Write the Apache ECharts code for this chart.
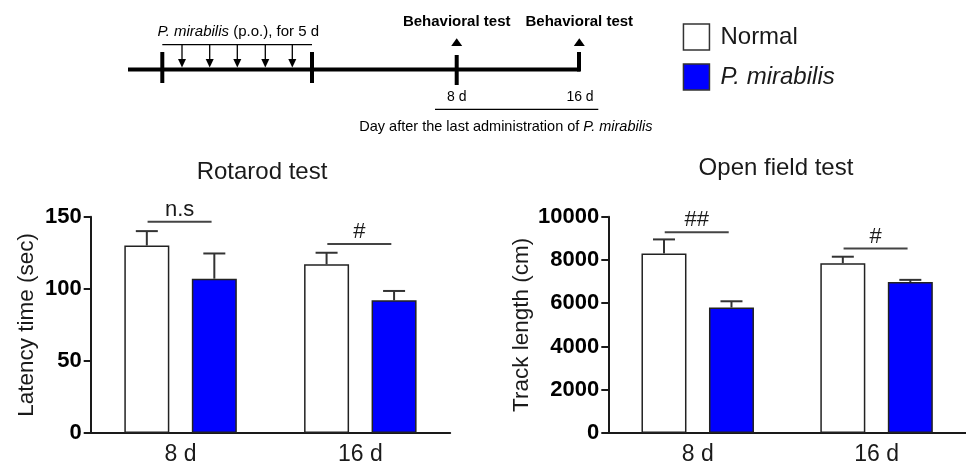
<!DOCTYPE html>
<html>
<head>
<meta charset="utf-8">
<script src="https://cdn.jsdelivr.net/npm/echarts@6/dist/echarts.min.js"></script>
<style>
html,body{margin:0;padding:0;background:#fff;}
#chart{width:966px;height:466px;}
</style>
</head>
<body>
<div id="chart"></div>
<script>
// ---- data ----
const categories = ['8 d', '16 d'];
const seriesNames = ['Normal', 'P. mirabilis'];

const rotarodNormal = [130, 117];
const rotarodNormalErr = [10, 8];
const rotarodPM = [107, 92];
const rotarodPMErr = [17.5, 6.5];
const rotarodSigLabels = ['n.s', '#'];
const rotarodSigLevels = [146.5, 131];
const rotarodTicks = [0, 50, 100, 150];

const openNormal = [8300, 7850];
const openNormalErr = [650, 300];
const openPM = [5800, 6980];
const openPMErr = [290, 100];
const openSigLabels = ['##', '#'];
const openSigLevels = [9280, 8530];
const openTicks = [0, 2000, 4000, 6000, 8000, 10000];

const chartTitles = ['Rotarod test', 'Open field test'];
const yNames = ['Latency time (sec)', 'Track length (cm)'];

const timelineTop = 'P. mirabilis';
const timelineTopRest = ' (p.o.), for 5 d';
const testLabel = 'Behavioral test';
const dayLabels = ['8 d', '16 d'];
const footPre = 'Day after the last administration of ';
const footItalic = 'P. mirabilis';

// ---- styling ----
const FF = 'Liberation Sans, Arial, Helvetica, sans-serif';
const INK = '#1a1a1a';
const BLUE = '#0000ff';
const BAR_W = 45;
const OFF = (BAR_W + BAR_W * 0.5) / 2;

function errRender(off) {
  return function (params, api) {
    const c = api.coord([api.value(0), api.value(1)]);
    const t = api.coord([api.value(0), api.value(1) + api.value(2)]);
    const x = c[0] + off;
    return {
      type: 'group',
      children: [
        {type: 'line', shape: {x1: x, y1: c[1], x2: x, y2: t[1]}, style: {stroke: '#333', lineWidth: 2}},
        {type: 'line', shape: {x1: x - 11, y1: t[1], x2: x + 11, y2: t[1]}, style: {stroke: '#333', lineWidth: 2}}
      ]
    };
  };
}
function sigRender(labels) {
  return function (params, api) {
    const c = api.coord([api.value(0), api.value(1)]);
    return {
      type: 'group',
      children: [
        {type: 'line', shape: {x1: c[0] - 33, y1: c[1], x2: c[0] + 31, y2: c[1]}, style: {stroke: '#444', lineWidth: 2}},
        {type: 'text', style: {text: labels[params.dataIndex], x: c[0] - 1, y: c[1] - 12, align: 'center', verticalAlign: 'middle', fontSize: 22, fontFamily: FF, fill: INK}}
      ]
    };
  };
}
function errData(vals, errs) { return vals.map((v, i) => [i, v, errs[i]]); }
function sigData(levels) { return levels.map((v, i) => [i, v]); }

function xAx(gi) {
  return {
    type: 'category', gridIndex: gi, data: categories,
    axisLine: {lineStyle: {color: INK, width: 2}},
    axisTick: {show: false},
    axisLabel: {fontSize: 23, fontFamily: FF, color: INK, margin: 10}
  };
}
function yAx(gi, ticks, name, gap) {
  return {
    type: 'value', gridIndex: gi, min: ticks[0], max: ticks[ticks.length - 1], interval: ticks[1] - ticks[0],
    name: name, nameLocation: 'middle', nameGap: gap,
    nameTextStyle: {fontSize: 22.5, fontFamily: FF, color: INK},
    axisLine: {show: true, lineStyle: {color: INK, width: 2}},
    axisTick: {show: true, length: 7, lineStyle: {color: INK, width: 2}},
    axisLabel: {fontSize: 22, fontWeight: 'bold', fontFamily: FF, color: '#000', margin: 9, formatter: v => String(v)},
    splitLine: {show: false}
  };
}
function barSeries(name, gi, data, color) {
  return {
    type: 'bar', name: name, xAxisIndex: gi, yAxisIndex: gi, data: data,
    barWidth: BAR_W, barGap: '50%',
    itemStyle: {color: color, borderColor: '#222', borderWidth: 1.5},
    silent: true, animation: false
  };
}
function customSeries(name, gi, data, render) {
  return {type: 'custom', name: name, xAxisIndex: gi, yAxisIndex: gi, data: data, renderItem: render, z: 5, silent: true, animation: false};
}

// ---- timeline diagram (schematic) ----
const TL = '#000';
const g = [];
function ln(x1, y1, x2, y2, w) { g.push({type: 'line', shape: {x1, y1, x2, y2}, style: {stroke: TL, lineWidth: w}, silent: true}); }
ln(128, 69.5, 580, 69.5, 4);
[162.3, 312].forEach(x => ln(x, 52, x, 83, 4));
ln(456.7, 55, 456.7, 85, 4);
ln(579, 52, 579, 71.5, 4);
ln(162.3, 44.7, 312, 44.7, 1.3);
[182, 209.7, 237.3, 265.3, 292.3].forEach(x => {
  ln(x, 44.7, x, 60, 1.3);
  g.push({type: 'polygon', shape: {points: [[x - 4, 59], [x + 4, 59], [x, 67.5]]}, style: {fill: TL}, silent: true});
});
[456.7, 579.3].forEach(x => {
  g.push({type: 'polygon', shape: {points: [[x - 5.5, 46], [x + 5.5, 46], [x, 38.3]]}, style: {fill: TL}, silent: true});
  g.push({type: 'text', style: {text: testLabel, x: x, y: 22, align: 'center', verticalAlign: 'middle', fontSize: 15, fontWeight: 'bold', fontFamily: FF, fill: TL}, silent: true});
});
[456.7, 580].forEach((x, i) => {
  g.push({type: 'text', style: {text: dayLabels[i], x: x, y: 96.8, align: 'center', verticalAlign: 'middle', fontSize: 14, fontFamily: FF, fill: TL}, silent: true});
});
ln(435, 109.3, 598.3, 109.3, 1.3);
g.push({type: 'text', style: {
  text: '{i|' + timelineTop + '}{n|' + timelineTopRest + '}', x: 238.3, y: 32, align: 'center', verticalAlign: 'middle',
  rich: {i: {fontSize: 15, fontFamily: FF, fontStyle: 'italic', fill: TL}, n: {fontSize: 15, fontFamily: FF, fill: TL}}
}, silent: true});
g.push({type: 'text', style: {
  text: '{n|' + footPre + '}{i|' + footItalic + '}', x: 359.3, y: 126.5, align: 'left', verticalAlign: 'middle',
  rich: {i: {fontSize: 14.5, fontFamily: FF, fontStyle: 'italic', fill: TL}, n: {fontSize: 14.5, fontFamily: FF, fill: TL}}
}, silent: true});

const option = {
  backgroundColor: '#fff',
  animation: false,
  title: [
    {text: chartTitles[0], left: 262, top: 160, textAlign: 'center', padding: 0, textStyle: {fontSize: 24, fontWeight: 'normal', fontFamily: FF, color: INK}},
    {text: chartTitles[1], left: 776, top: 156, textAlign: 'center', padding: 0, textStyle: {fontSize: 24, fontWeight: 'normal', fontFamily: FF, color: INK}}
  ],
  legend: {
    data: seriesNames, left: 682.7, top: 23.3, orient: 'vertical', padding: 0,
    itemWidth: 26, itemHeight: 26, itemGap: 12.4, icon: 'rect',
    itemStyle: {borderColor: '#333', borderWidth: 1.5},
    textStyle: {fontSize: 24, fontFamily: FF, color: INK, padding: [0, 0, 0, 6],
      rich: {i: {fontSize: 24, fontFamily: FF, fontStyle: 'italic', color: INK}}},
    formatter: n => n === seriesNames[1] ? '{i|' + n + '}' : n,
    selectedMode: false
  },
  grid: [
    {left: 90.7, top: 216.7, width: 359.5, height: 217.6},
    {left: 608.3, top: 216.7, width: 360, height: 217.6}
  ],
  xAxis: [xAx(0), xAx(1)],
  yAxis: [yAx(0, rotarodTicks, yNames[0], 52), yAx(1, openTicks, yNames[1], 75.5)],
  series: [
    barSeries(seriesNames[0], 0, rotarodNormal, '#fff'),
    barSeries(seriesNames[1], 0, rotarodPM, BLUE),
    barSeries(seriesNames[0], 1, openNormal, '#fff'),
    barSeries(seriesNames[1], 1, openPM, BLUE),
    customSeries('errRN', 0, errData(rotarodNormal, rotarodNormalErr), errRender(-OFF)),
    customSeries('errRP', 0, errData(rotarodPM, rotarodPMErr), errRender(OFF)),
    customSeries('errON', 1, errData(openNormal, openNormalErr), errRender(-OFF)),
    customSeries('errOP', 1, errData(openPM, openPMErr), errRender(OFF)),
    customSeries('sigR', 0, sigData(rotarodSigLevels), sigRender(rotarodSigLabels)),
    customSeries('sigO', 1, sigData(openSigLevels), sigRender(openSigLabels))
  ],
  graphic: g
};

const chart = echarts.init(document.getElementById('chart'), null, {renderer: 'canvas'});
chart.setOption(option);
</script>
</body>
</html>
